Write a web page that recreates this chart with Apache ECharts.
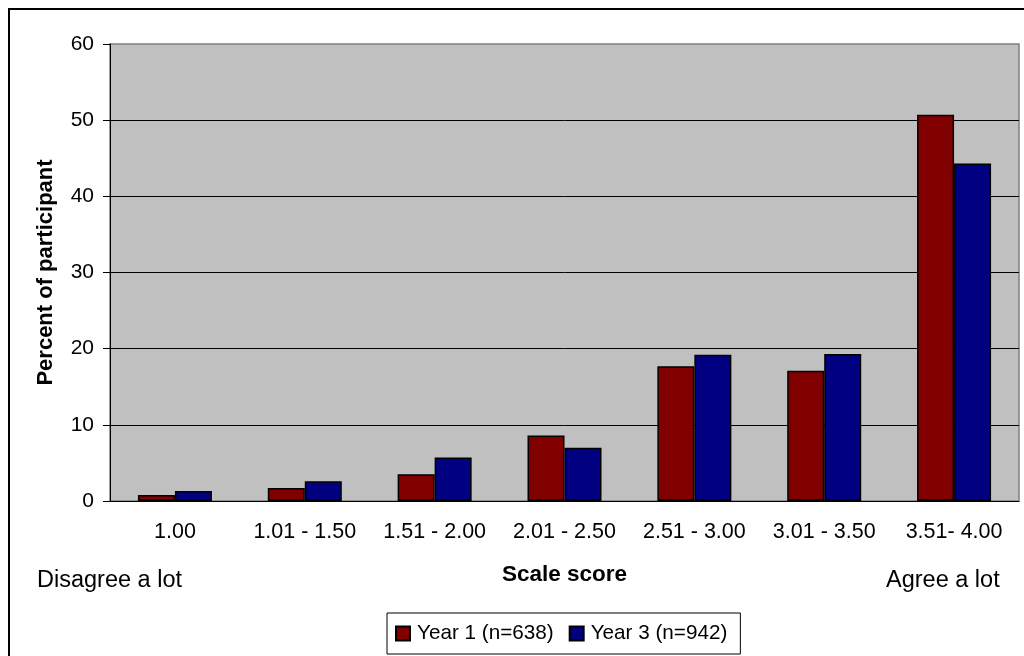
<!DOCTYPE html>
<html>
<head>
<meta charset="utf-8">
<script src="https://cdn.jsdelivr.net/npm/echarts@6/dist/echarts.min.js"></script>
<style>
  html, body { margin: 0; padding: 0; background: #fff; }
  #container { width: 1024px; height: 656px; }
</style>
</head>
<body>
<div id="container"></div>
<script>
// 分数区间
var categories = ['1.00', '1.01 - 1.50', '1.51 - 2.00', '2.01 - 2.50', '2.51 - 3.00', '3.01 - 3.50', '3.51- 4.00']
var year1 = [0.8, 1.7, 3.5, 8.6, 17.7, 17.1, 50.7]
var year3 = [1.3, 2.6, 5.7, 7.0, 19.2, 19.3, 44.3]
var seriesNames = ['Year 1 (n=638)', 'Year 3 (n=942)']

var font = 'Liberation Sans, Arial, sans-serif'
var myChart = echarts.init(document.getElementById('container'), null, {renderer: 'canvas'})

var option = {
    backgroundColor: '#fff',
    animation: false,
    textStyle: {fontFamily: font, color: '#000'},
    grid: {
        left: 110, right: 5, top: 44, bottom: 155,
        show: true,
        backgroundColor: '#C0C0C0',
        borderColor: '#808080',
        borderWidth: 1.5
    },
    legend: {
        left: 387, top: 613,
        padding: [10, 13, 10, 8],
        itemWidth: 14, itemHeight: 14, itemGap: 15,
        borderColor: '#000', borderWidth: 1,
        backgroundColor: '#fff',
        icon: 'rect',
        textStyle: {fontSize: 20.7, fontFamily: font, color: '#000', padding: [0, 0, 0, 2]},
        data: seriesNames
    },
    xAxis: {
        type: 'category',
        data: categories,
        name: 'Scale score',
        nameLocation: 'middle',
        nameGap: 62,
        nameTextStyle: {fontSize: 22.5, fontWeight: 'bold', fontFamily: font, color: '#000'},
        axisLine: {lineStyle: {color: '#000', width: 1}},
        axisTick: {length: 7, lineStyle: {color: '#000'}},
        axisLabel: {interval: 0, fontSize: 21.5, fontFamily: font, color: '#000', margin: 20}
    },
    yAxis: {
        type: 'value',
        min: 0, max: 60, interval: 10,
        name: 'Percent of participant',
        nameLocation: 'middle',
        nameGap: 53,
        nameTextStyle: {fontSize: 22, fontWeight: 'bold', fontFamily: font, color: '#000'},
        axisLine: {show: true, lineStyle: {color: '#000', width: 1}},
        axisTick: {show: true, length: 7, lineStyle: {color: '#000'}},
        axisLabel: {fontSize: 21, fontFamily: font, color: '#000', margin: 16},
        splitLine: {show: true, showMaxLine: false, lineStyle: {color: '#000', width: 1}}
    },
    graphic: [
        {type: 'rect', shape: {x: 9, y: 9, width: 1100, height: 1000},
         style: {fill: 'none', stroke: '#000', lineWidth: 2}, silent: true},
        {type: 'text', left: 37, top: 569,
         style: {text: 'Disagree a lot', font: '23.5px ' + font, fill: '#000'}},
        {type: 'text', left: 886, top: 569,
         style: {text: 'Agree a lot', font: '23.5px ' + font, fill: '#000'}}
    ],
    series: [
        {
            name: seriesNames[0], type: 'bar', data: year1,
            barWidth: 37, barGap: '0%',
            itemStyle: {color: '#800000', borderColor: '#000', borderWidth: 1.5}
        },
        {
            name: seriesNames[1], type: 'bar', data: year3,
            barWidth: 37,
            itemStyle: {color: '#000080', borderColor: '#000', borderWidth: 1.5}
        }
    ]
}
myChart.setOption(option)
</script>
</body>
</html>
